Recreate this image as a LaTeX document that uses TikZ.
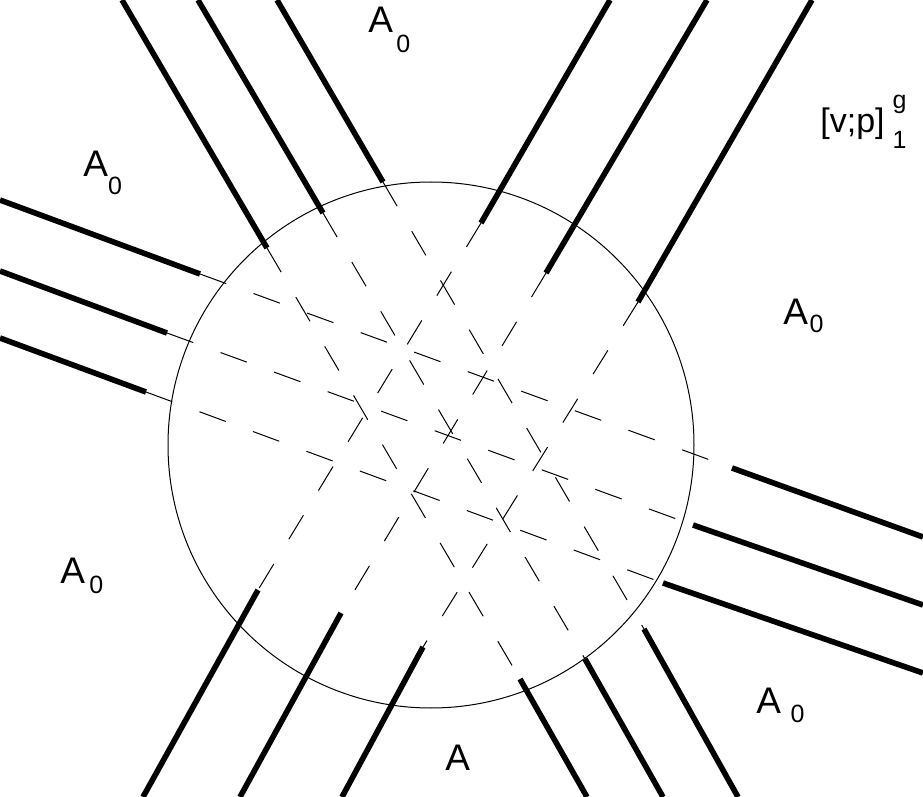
\documentclass[tikz,border=0pt]{standalone}
\usepackage{fontspec}
\setmainfont{Liberation Sans}
\newcommand{\idxsize}{\fontsize{12.5}{12.5}\selectfont}
\newcommand{\Anought}[2]{A\kern#1\raisebox{-#2}{\idxsize 0}}

\begin{document}
\begin{tikzpicture}[x=.5pt, y=-.5pt,
    bar/.style={line width=2.8pt},
    dashline/.style={line width=.5pt, dash pattern=on 14pt off 14.5pt},
    lbl/.style={anchor=base west, inner sep=0pt, font=\fontsize{18.5}{20}\selectfont}]
  \useasboundingbox (0,0) rectangle (923,797);
  % disc
  \draw[line width=.5pt] (431,445) circle[radius=131.5pt];
  % top left to bottom right
  \draw[bar] (122,0) -- (267,248) (520,679) -- (587,797);
  \draw[bar] (198,0) -- (323,213) (585,659) -- (663,797);
  \draw[bar] (277,0) -- (383,182) (644,629) -- (738,797);
  \draw[dashline] (267,248) -- (520,679);
  \draw[dashline] (323,213) -- (585,659);
  \draw[dashline] (383,182) -- (644,629);
  % top right to bottom left
  \draw[bar] (610,0) -- (481,223) (258,590) -- (143,797);
  \draw[bar] (707,0) -- (546,273) (341,613) -- (240,797);
  \draw[bar] (812,0) -- (638,302) (423,647) -- (342,797);
  \draw[dashline] (481,223) -- (258,590);
  \draw[dashline] (546,273) -- (341,613);
  \draw[dashline] (638,302) -- (423,647);
  % left to right
  \draw[bar] (0,200) -- (200,274) (732,468) -- (923,537);
  \draw[bar] (0,271) -- (167,333) (693,525) -- (923,605);
  \draw[bar] (0,338) -- (146,392) (663,583) -- (923,673);
  \draw[dashline] (200,274) -- (732,468);
  \draw[dashline] (167,333) -- (693,525);
  \draw[dashline] (146,392) -- (663,583);
  % labels
  \node[lbl] (a-top) at (368,33) {\Anought{1.6pt}{10pt}};
  \node[lbl] (a-left) at (83,177) {\Anought{0pt}{9pt}};
  \node[lbl] (a-right) at (783,325) {\Anought{0.8pt}{4pt}};
  \node[lbl] (a-lowleft) at (60,583) {\Anought{2.2pt}{5.5pt}};
  \node[lbl] (a-lowright) at (756,713) {\Anought{4.8pt}{4.5pt}};
  \node[lbl] (a-bottom) at (445,770) {A};
  \node[lbl, font=\fontsize{17}{20}\selectfont] (vp) at (820,133)
    {[v;p]\kern4pt\rlap{\raisebox{12pt}{\idxsize g}}\raisebox{-8pt}{\idxsize 1}};
\end{tikzpicture}
\end{document}
